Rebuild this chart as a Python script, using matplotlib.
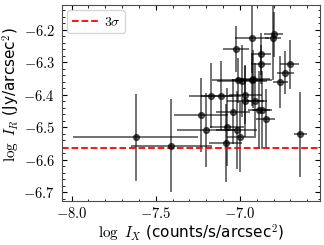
import numpy as np
import matplotlib.pyplot as plt
from matplotlib.ticker import MultipleLocator, FormatStrFormatter

# log I_X, log I_R and their errors
log_ix = [-7.619, -7.407, -7.230, -7.202, -7.173, -7.113, -7.077, -7.086,
          -7.042, -7.022, -7.020, -7.014, -6.998, -6.988, -6.968, -6.968,
          -6.929, -6.921, -6.929, -6.909, -6.875, -6.875, -6.887, -6.869,
          -6.848, -6.804, -6.800, -6.760, -6.730, -6.705, -6.641]
log_ir = [-6.530, -6.556, -6.462, -6.508, -6.402, -6.402, -6.498, -6.547,
          -6.451, -6.259, -6.508, -6.355, -6.528, -6.357, -6.400, -6.418,
          -6.355, -6.351, -6.224, -6.418, -6.275, -6.306, -6.446, -6.446,
          -6.473, -6.224, -6.214, -6.360, -6.331, -6.306, -6.521]
err_x = [0.37, 0.24, 0.16, 0.17, 0.13, 0.12, 0.10, 0.10,
         0.10, 0.077, 0.12, 0.15, 0.08, 0.15, 0.10, 0.11,
         0.12, 0.10, 0.10, 0.07, 0.06, 0.06, 0.065, 0.06,
         0.055, 0.05, 0.055, 0.045, 0.05, 0.055, 0.04]
err_y = [0.134, 0.143, 0.114, 0.115, 0.10, 0.105, 0.12, 0.12,
         0.10, 0.07, 0.12, 0.07, 0.11, 0.11, 0.09, 0.11,
         0.08, 0.09, 0.11, 0.115, 0.065, 0.06, 0.12, 0.12,
         0.09, 0.13, 0.07, 0.08, 0.065, 0.075, 0.13]
sigma3 = -6.563

plt.rcParams['mathtext.fontset'] = 'cm'
plt.rcParams['font.family'] = 'DejaVu Sans'

fig = plt.figure(figsize=(3.24, 2.45), dpi=100)
ax = fig.add_axes([0.191, 0.18, 0.797, 0.80])

ax.errorbar(log_ix, log_ir, xerr=err_x, yerr=err_y, fmt='o', color='k',
            ecolor='k', ms=4.2, elinewidth=1.3, alpha=0.6, capsize=0)
ax.axhline(sigma3, color='red', ls='--', lw=1.3, label=r'$3\sigma$')

ax.set_xlim(-8.058, -6.524)
ax.set_ylim(-6.726, -6.123)
ax.xaxis.set_major_locator(MultipleLocator(0.5))
ax.xaxis.set_minor_locator(MultipleLocator(0.1))
ax.yaxis.set_major_locator(MultipleLocator(0.1))
ax.yaxis.set_minor_locator(MultipleLocator(0.02))
ax.xaxis.set_major_formatter(FormatStrFormatter(r'$%.1f$'))
ax.yaxis.set_major_formatter(FormatStrFormatter(r'$%.1f$'))
ax.tick_params(which='both', direction='in', top=True, right=True, labelsize=10.5)
ax.tick_params(which='major', length=3.5)
ax.tick_params(which='minor', length=1.8)
ax.tick_params(axis='y', pad=5)
ax.tick_params(axis='x', pad=4)
for s in ax.spines.values():
    s.set_color('0.3')

ax.set_xlabel(r'$\log\ I_X$ (counts/s/arcsec$^2$)', fontsize=11, labelpad=1)
ax.set_ylabel(r'$\log\ I_R$ (Jy/arcsec$^2$)', fontsize=11, labelpad=1)
ax.yaxis.set_label_coords(-0.155, 0.54)
ax.legend(loc='upper left', fontsize=10, handlelength=1.9, borderpad=0.3,
          handletextpad=0.4, borderaxespad=0.4)

fig.savefig('out.png', dpi=100)
